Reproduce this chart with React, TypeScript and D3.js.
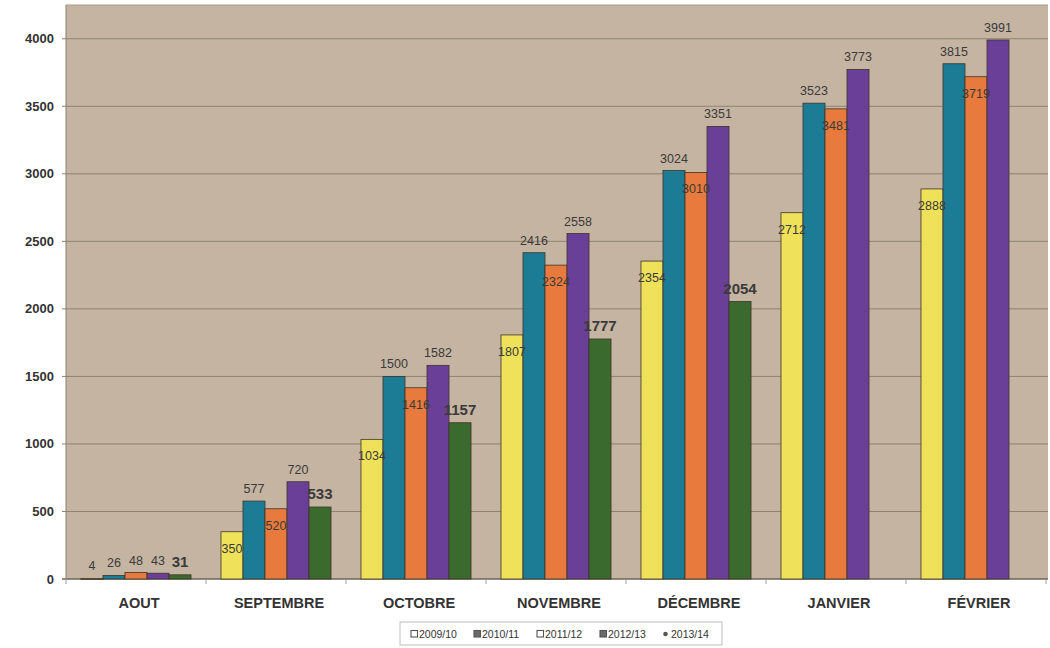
import React from "react";
import * as d3 from "d3";

const categories = ["AOUT", "SEPTEMBRE", "OCTOBRE", "NOVEMBRE", "DÉCEMBRE", "JANVIER", "FÉVRIER"];
const seriesNames = ["2009/10", "2010/11", "2011/12", "2012/13", "2013/14"];
const s2009 = [4, 350, 1034, 1807, 2354, 2712, 2888];
const s2010 = [26, 577, 1500, 2416, 3024, 3523, 3815];
const s2011 = [48, 520, 1416, 2324, 3010, 3481, 3719];
const s2012 = [43, 720, 1582, 2558, 3351, 3773, 3991];
const s2013: (number | null)[] = [31, 533, 1157, 1777, 2054, null, null];
const yTicks = [0, 500, 1000, 1500, 2000, 2500, 3000, 3500, 4000];
const colors = ["#efe25a", "#1c7c96", "#e77a3c", "#6a3f98", "#3b6a2f"];
// label placement style per series: "inside" (just under the top) or "above"
const labelModes = ["inside", "above", "inside", "above", "above"];

const W = 1050, H = 648;
const plotL = 66, plotR = 1046, plotT = 5, plotB = 579;

export default function App() {
  const series = [s2009, s2010, s2011, s2012, s2013];
  const x = d3.scaleBand<string>().domain(categories).range([plotL, plotR]).paddingInner(0.214).paddingOuter(0.107);
  const xs = d3.scaleBand<string>().domain(seriesNames).range([0, x.bandwidth()]);
  const xOuter = d3.scaleBand<string>().domain(categories).range([plotL, plotR]);
  const y = d3.scaleLinear().domain([0, 4250]).range([plotB, plotT]);

  return (
    <svg width={W} height={H} style={{ position: "absolute", left: 0, top: 0, background: "#fff" }}
      fontFamily="'Liberation Sans', Arial, sans-serif">
      <rect x={plotL} y={plotT} width={W - 2 - plotL} height={plotB - plotT} fill="#c5b4a1" />
      <line x1={plotL} x2={W - 2} y1={plotT} y2={plotT} stroke="#a89a88" strokeWidth={1} />
      {yTicks.map((t) => (
        <g key={t}>
          <line x1={plotL - 4} x2={W - 2} y1={y(t)} y2={y(t)} stroke={t === 0 ? "#6d6458" : "#8e8273"} strokeWidth={t === 0 ? 1.5 : 1} />
          <text x={54} y={y(t) + 4.5} textAnchor="end" fontSize={13} fontWeight="bold" fill="#333">{t}</text>
        </g>
      ))}
      <line x1={plotL} x2={plotL} y1={plotT} y2={plotB} stroke="#8e8273" />
      {categories.map((c) => (
        <line key={"tk" + c} x1={xOuter(c)!} x2={xOuter(c)!} y1={plotB} y2={plotB + 5} stroke="#9a9a9a" />
      ))}
      <line x1={plotR} x2={plotR} y1={plotB} y2={plotB + 5} stroke="#9a9a9a" />
      {series.map((vals, si) =>
        vals.map((v, ci) => {
          if (v === null) return null;
          const bx = x(categories[ci])! + xs(seriesNames[si])!;
          const bw = xs.bandwidth();
          const top = y(v);
          return (
            <rect key={`b${si}-${ci}`} x={bx} y={top} width={bw} height={Math.max(plotB - top, 1)}
              fill={colors[si]} stroke="#3d3428" strokeWidth={0.8} />
          );
        })
      )}
      {series.map((vals, si) =>
        vals.map((v, ci) => {
          if (v === null) return null;
          const bx = x(categories[ci])! + xs(seriesNames[si])!;
          const bw = xs.bandwidth();
          const top = y(v);
          const small = v < 200;
          const mode = small ? "above" : labelModes[si];
          const isBold = si === 4;
          const ty = mode === "inside" ? top + 21 : top - 8;
          return (
            <text key={`l${si}-${ci}`} x={bx + bw / 2} y={ty} textAnchor="middle"
              fontSize={isBold ? 15 : 12.5} fontWeight={isBold ? "bold" : "normal"} fill="#3a3a3a">{v}</text>
          );
        })
      )}
      {categories.map((c) => (
        <text key={"c" + c} x={x(c)! + x.bandwidth() / 2 + 3} y={608} textAnchor="middle" fontSize={14.5}
          fontWeight="bold" fill="#333">{c}</text>
      ))}
      <g>
        <rect x={400} y={622} width={322} height={23} fill="#fff" stroke="#bdbdbd" />
        {seriesNames.map((n, i) => {
          const lx = 411 + i * 63;
          return (
            <g key={"lg" + n}>
              {i === 4 ? (
                <circle cx={lx + 2.5} cy={634} r={2.3} fill="#555" />
              ) : (
                <rect x={lx} y={630.5} width={6.5} height={6.5} fill={i % 2 === 1 ? "#6a6a6a" : "#fff"} stroke="#555" strokeWidth={1.1} />
              )}
              <text x={lx + 8} y={637.8} fontSize={10.5} fill="#333">{n}</text>
            </g>
          );
        })}
      </g>
    </svg>
  );
}
